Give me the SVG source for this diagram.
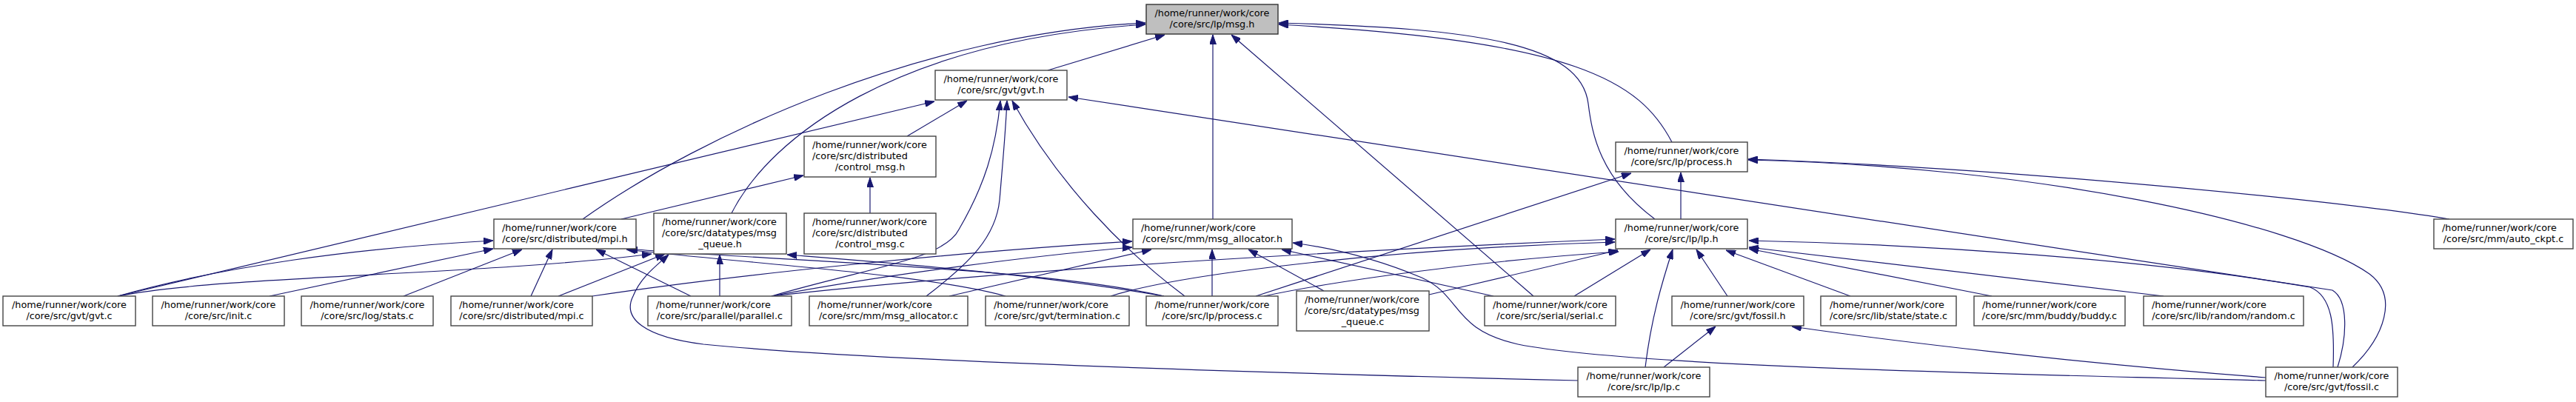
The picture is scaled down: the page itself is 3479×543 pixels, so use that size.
<svg xmlns="http://www.w3.org/2000/svg" width="3479" height="543" viewBox="0 0 3479 543">
<defs>
<marker id="ah" markerWidth="13" markerHeight="9" refX="13" refY="4.5" orient="auto" markerUnits="userSpaceOnUse"><path d="M0,0 L13,4.5 L0,9 z" fill="#191970" stroke="#191970" stroke-width="1"/></marker>
</defs>
<style>
.n rect{fill:#fff;stroke:#444;stroke-width:1.4}
.root rect{fill:#bfbfbf;stroke:#333}
text{font-family:"DejaVu Sans","Liberation Sans",sans-serif;font-size:12.8px;fill:#000}
.c{text-anchor:middle}
.e path{fill:none;stroke:#191970;stroke-width:1.2;marker-end:url(#ah)}
</style>
<rect width="3479" height="543" fill="#fff"/>
<g id="edges" class="e">
<path d="M1415,95 L1573,47"/>
<path d="M787,296 C950,180 1250,45 1547,31"/>
<path d="M988,288 C1040,185 1210,55 1547,33"/>
<path d="M1638,296 L1638,47"/>
<path d="M2071,400 L1663,47"/>
<path d="M2235,296 C2160,240 2150,180 2145,140 C2135,60 2000,38 1727,31"/>
<path d="M2258,192 C2215,110 2130,55 1727,33"/>
<path d="M159,400 L1262,137"/>
<path d="M1225,184 L1306,136"/>
<path d="M1042,400 C1180,360 1275,350 1295,310 C1330,250 1345,200 1351,136"/>
<path d="M1251,400 C1310,355 1345,320 1350,270 C1355,210 1358,180 1360,136"/>
<path d="M1600,400 C1520,340 1430,250 1367,136"/>
<path d="M3157,496 C3170,455 3172,405 3150,392 L1443,131"/>
<path d="M839,296 L1085,237"/>
<path d="M1175,288 L1175,240"/>
<path d="M159,400 C300,360 480,335 666,325"/>
<path d="M364,400 L666,336"/>
<path d="M545,400 L705,337"/>
<path d="M717,400 L746,337"/>
<path d="M933,400 L805,337"/>
<path d="M1358,400 C1250,370 1000,355 846,337"/>
<path d="M1572,400 C1400,360 1000,350 848,336"/>
<path d="M159,400 C300,372 650,372 880,343"/>
<path d="M754,400 L898,343"/>
<path d="M972,400 L972,344"/>
<path d="M2132,514 C1800,506 1200,490 950,465 C870,455 840,430 855,400 C865,375 885,360 903,344"/>
<path d="M1572,400 C1400,370 1200,355 1063,344"/>
<path d="M800,400 C1000,370 1300,340 1529,326"/>
<path d="M1042,400 C1200,370 1400,345 1529,334"/>
<path d="M1282,400 L1555,337"/>
<path d="M1637,400 L1637,337"/>
<path d="M1788,393 L1686,337"/>
<path d="M2017,400 L1731,337"/>
<path d="M3060,514 C2700,505 2200,495 2050,465 C1960,445 1975,400 1920,375 C1860,350 1800,335 1746,328"/>
<path d="M2270,296 L2270,233"/>
<path d="M1696,400 L2203,234"/>
<path d="M3308,296 C3150,270 2700,226 2361,215"/>
<path d="M3177,496 C3220,455 3240,400 3200,370 C3100,300 2750,225 2361,216"/>
<path d="M2222,496 C2230,430 2245,380 2259,337"/>
<path d="M2247,496 L2317,441"/>
<path d="M3060,510 C2800,490 2550,460 2420,441"/>
<path d="M2333,400 L2291,337"/>
<path d="M2126,400 L2229,337"/>
<path d="M2499,400 L2331,338"/>
<path d="M2690,400 L2362,336"/>
<path d="M2922,400 L2362,334"/>
<path d="M3151,496 C3153,440 3150,400 3120,388 C2900,350 2600,330 2362,325"/>
<path d="M1930,398 L2185,338"/>
<path d="M1042,400 C1400,360 1900,335 2181,323"/>
<path d="M1500,400 C1600,368 1900,335 2181,327"/>
<path d="M1707,400 C1800,380 2000,352 2186,340"/>
</g>
<g id="n_msg_h" class="n root"><rect x="1548" y="6" width="178" height="40"/><text class="c" x="1637" y="22">/home/runner/work/core</text><text class="c" x="1637" y="37">/core/src/lp/msg.h</text></g>
<g id="n_gvt_h" class="n"><rect x="1263" y="95" width="178" height="40"/><text class="c" x="1352" y="111">/home/runner/work/core</text><text class="c" x="1352" y="126">/core/src/gvt/gvt.h</text></g>
<g id="n_control_msg_h" class="n"><rect x="1086" y="184" width="178" height="55"/><text x="1097" y="200">/home/runner/work/core</text><text x="1097" y="215">/core/src/distributed</text><text class="c" x="1175" y="230">/control_msg.h</text></g>
<g id="n_process_h" class="n"><rect x="2182" y="192" width="178" height="40"/><text class="c" x="2271" y="208">/home/runner/work/core</text><text class="c" x="2271" y="223">/core/src/lp/process.h</text></g>
<g id="n_mpi_h" class="n"><rect x="667" y="296" width="192" height="40"/><text x="678" y="312">/home/runner/work/core</text><text class="c" x="763" y="327">/core/src/distributed/mpi.h</text></g>
<g id="n_msg_queue_h" class="n"><rect x="883" y="288" width="179" height="55"/><text x="894" y="304">/home/runner/work/core</text><text x="894" y="319">/core/src/datatypes/msg</text><text class="c" x="972.5" y="334">_queue.h</text></g>
<g id="n_control_msg_c" class="n"><rect x="1086" y="288" width="178" height="55"/><text x="1097" y="304">/home/runner/work/core</text><text x="1097" y="319">/core/src/distributed</text><text class="c" x="1175" y="334">/control_msg.c</text></g>
<g id="n_msg_allocator_h" class="n"><rect x="1530" y="296" width="215" height="40"/><text x="1541" y="312">/home/runner/work/core</text><text class="c" x="1637.5" y="327">/core/src/mm/msg_allocator.h</text></g>
<g id="n_lp_h" class="n"><rect x="2182" y="296" width="178" height="40"/><text class="c" x="2271" y="312">/home/runner/work/core</text><text class="c" x="2271" y="327">/core/src/lp/lp.h</text></g>
<g id="n_auto_ckpt_c" class="n"><rect x="3287" y="296" width="188" height="40"/><text x="3298" y="312">/home/runner/work/core</text><text class="c" x="3381" y="327">/core/src/mm/auto_ckpt.c</text></g>
<g id="n_gvt_c" class="n"><rect x="4" y="400" width="179" height="40"/><text class="c" x="93.5" y="416">/home/runner/work/core</text><text class="c" x="93.5" y="431">/core/src/gvt/gvt.c</text></g>
<g id="n_init_c" class="n"><rect x="206" y="400" width="178" height="40"/><text class="c" x="295" y="416">/home/runner/work/core</text><text class="c" x="295" y="431">/core/src/init.c</text></g>
<g id="n_stats_c" class="n"><rect x="407" y="400" width="178" height="40"/><text class="c" x="496" y="416">/home/runner/work/core</text><text class="c" x="496" y="431">/core/src/log/stats.c</text></g>
<g id="n_mpi_c" class="n"><rect x="609" y="400" width="191" height="40"/><text x="620" y="416">/home/runner/work/core</text><text class="c" x="704.5" y="431">/core/src/distributed/mpi.c</text></g>
<g id="n_parallel_c" class="n"><rect x="875" y="400" width="194" height="40"/><text x="886" y="416">/home/runner/work/core</text><text class="c" x="972" y="431">/core/src/parallel/parallel.c</text></g>
<g id="n_msg_allocator_c" class="n"><rect x="1093" y="400" width="214" height="40"/><text x="1104" y="416">/home/runner/work/core</text><text class="c" x="1200" y="431">/core/src/mm/msg_allocator.c</text></g>
<g id="n_termination_c" class="n"><rect x="1331" y="400" width="194" height="40"/><text x="1342" y="416">/home/runner/work/core</text><text class="c" x="1428" y="431">/core/src/gvt/termination.c</text></g>
<g id="n_process_c" class="n"><rect x="1548" y="400" width="178" height="40"/><text class="c" x="1637" y="416">/home/runner/work/core</text><text class="c" x="1637" y="431">/core/src/lp/process.c</text></g>
<g id="n_msg_queue_c" class="n"><rect x="1751" y="393" width="179" height="54"/><text x="1762" y="409">/home/runner/work/core</text><text x="1762" y="424">/core/src/datatypes/msg</text><text class="c" x="1840.5" y="439">_queue.c</text></g>
<g id="n_serial_c" class="n"><rect x="2005" y="400" width="177" height="40"/><text class="c" x="2093.5" y="416">/home/runner/work/core</text><text class="c" x="2093.5" y="431">/core/src/serial/serial.c</text></g>
<g id="n_fossil_h" class="n"><rect x="2258" y="400" width="178" height="40"/><text class="c" x="2347" y="416">/home/runner/work/core</text><text class="c" x="2347" y="431">/core/src/gvt/fossil.h</text></g>
<g id="n_state_c" class="n"><rect x="2459" y="400" width="183" height="40"/><text x="2471" y="416">/home/runner/work/core</text><text class="c" x="2550.5" y="431">/core/src/lib/state/state.c</text></g>
<g id="n_buddy_c" class="n"><rect x="2666" y="400" width="204" height="40"/><text x="2677" y="416">/home/runner/work/core</text><text class="c" x="2768" y="431">/core/src/mm/buddy/buddy.c</text></g>
<g id="n_random_c" class="n"><rect x="2895" y="400" width="216" height="40"/><text x="2906" y="416">/home/runner/work/core</text><text class="c" x="3003" y="431">/core/src/lib/random/random.c</text></g>
<g id="n_lp_c" class="n"><rect x="2131" y="496" width="178" height="40"/><text class="c" x="2220" y="512">/home/runner/work/core</text><text class="c" x="2220" y="527">/core/src/lp/lp.c</text></g>
<g id="n_fossil_c" class="n"><rect x="3060" y="496" width="178" height="40"/><text class="c" x="3149" y="512">/home/runner/work/core</text><text class="c" x="3149" y="527">/core/src/gvt/fossil.c</text></g>
</svg>
